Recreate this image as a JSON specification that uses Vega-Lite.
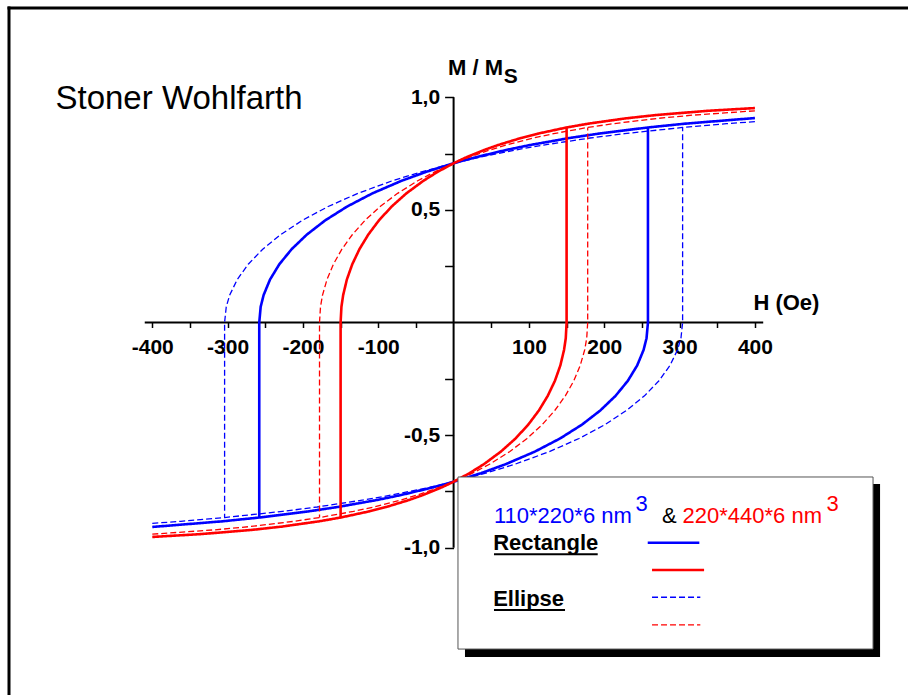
{
  "$schema": "https://vega.github.io/schema/vega-lite/v6.json",
  "width": 899,
  "height": 687,
  "autosize": {"type": "none"},
  "padding": {"left": 9, "top": 8, "right": 0, "bottom": 0},
  "background": "white",
  "config": {"view": {"stroke": null}, "font": "Liberation Sans"},
  "layer": [
    {
      "data": {"values": [{}]},
      "mark": {"type": "rule", "color": "black", "strokeWidth": 3, "strokeCap": "square"},
      "encoding": {
        "x": {"datum": -590.2, "type": "quantitative"},
        "y": {"datum": 1.3965, "type": "quantitative"},
        "y2": {"datum": -1.654}
      }
    },
    {
      "data": {"values": [{}]},
      "mark": {"type": "rule", "color": "black", "strokeWidth": 3, "strokeCap": "square"},
      "encoding": {
        "x": {"datum": -590.2, "type": "quantitative"},
        "x2": {"datum": 603.2},
        "y": {"datum": 1.3965, "type": "quantitative"}
      }
    },
    {
      "data": {"values": [{}]},
      "mark": {"type": "rule", "color": "black", "strokeWidth": 2},
      "encoding": {
        "x": {"datum": -410, "type": "quantitative"},
        "x2": {"datum": 411},
        "y": {"datum": 0, "type": "quantitative"}
      }
    },
    {
      "data": {"values": [{}]},
      "mark": {"type": "rule", "color": "black", "strokeWidth": 2},
      "encoding": {
        "x": {"datum": 0, "type": "quantitative"},
        "y": {"datum": 1, "type": "quantitative"},
        "y2": {"datum": -1}
      }
    },
    {
      "data": {"values": [
        {"k":"br1","c":"b","t":"r","i":0,"H":400,"M":0.9079},
        {"k":"br1","c":"b","t":"r","i":1,"H":307.3,"M":0.8829},
        {"k":"br1","c":"b","t":"r","i":2,"H":258,"M":0.866},
        {"k":"br1","c":"b","t":"r","i":3,"H":192.7,"M":0.8387},
        {"k":"br1","c":"b","t":"r","i":4,"H":153.8,"M":0.8192},
        {"k":"br1","c":"b","t":"r","i":5,"H":101.4,"M":0.788},
        {"k":"br1","c":"b","t":"r","i":6,"H":69.7,"M":0.766},
        {"k":"br1","c":"b","t":"r","i":7,"H":26.4,"M":0.7314},
        {"k":"br1","c":"b","t":"r","i":8,"H":0,"M":0.7071},
        {"k":"br1","c":"b","t":"r","i":9,"H":-36.3,"M":0.6691},
        {"k":"br1","c":"b","t":"r","i":10,"H":-69.0,"M":0.6293},
        {"k":"br1","c":"b","t":"r","i":11,"H":-107.7,"M":0.5736},
        {"k":"br1","c":"b","t":"r","i":12,"H":-141.3,"M":0.515},
        {"k":"br1","c":"b","t":"r","i":13,"H":-170.2,"M":0.454},
        {"k":"br1","c":"b","t":"r","i":14,"H":-194.7,"M":0.3907},
        {"k":"br1","c":"b","t":"r","i":15,"H":-215.0,"M":0.3256},
        {"k":"br1","c":"b","t":"r","i":16,"H":-231.3,"M":0.2588},
        {"k":"br1","c":"b","t":"r","i":17,"H":-243.7,"M":0.1908},
        {"k":"br1","c":"b","t":"r","i":18,"H":-252.2,"M":0.1219},
        {"k":"br1","c":"b","t":"r","i":19,"H":-256.1,"M":0.0698},
        {"k":"br1","c":"b","t":"r","i":20,"H":-258,"M":0},
        {"k":"br1","c":"b","t":"r","i":21,"H":-258,"M":-0.866},
        {"k":"br2","c":"b","t":"r","i":0,"H":-400,"M":-0.9079},
        {"k":"br2","c":"b","t":"r","i":1,"H":-307.3,"M":-0.8829},
        {"k":"br2","c":"b","t":"r","i":2,"H":-258,"M":-0.866},
        {"k":"br2","c":"b","t":"r","i":3,"H":-192.7,"M":-0.8387},
        {"k":"br2","c":"b","t":"r","i":4,"H":-153.8,"M":-0.8192},
        {"k":"br2","c":"b","t":"r","i":5,"H":-101.4,"M":-0.788},
        {"k":"br2","c":"b","t":"r","i":6,"H":-69.7,"M":-0.766},
        {"k":"br2","c":"b","t":"r","i":7,"H":-26.4,"M":-0.7314},
        {"k":"br2","c":"b","t":"r","i":8,"H":0,"M":-0.7071},
        {"k":"br2","c":"b","t":"r","i":9,"H":36.3,"M":-0.6691},
        {"k":"br2","c":"b","t":"r","i":10,"H":69.0,"M":-0.6293},
        {"k":"br2","c":"b","t":"r","i":11,"H":107.7,"M":-0.5736},
        {"k":"br2","c":"b","t":"r","i":12,"H":141.3,"M":-0.515},
        {"k":"br2","c":"b","t":"r","i":13,"H":170.2,"M":-0.454},
        {"k":"br2","c":"b","t":"r","i":14,"H":194.7,"M":-0.3907},
        {"k":"br2","c":"b","t":"r","i":15,"H":215.0,"M":-0.3256},
        {"k":"br2","c":"b","t":"r","i":16,"H":231.3,"M":-0.2588},
        {"k":"br2","c":"b","t":"r","i":17,"H":243.7,"M":-0.1908},
        {"k":"br2","c":"b","t":"r","i":18,"H":252.2,"M":-0.1219},
        {"k":"br2","c":"b","t":"r","i":19,"H":256.1,"M":-0.0698},
        {"k":"br2","c":"b","t":"r","i":20,"H":258,"M":0},
        {"k":"br2","c":"b","t":"r","i":21,"H":258,"M":0.866},
        {"k":"be1","c":"b","t":"e","i":0,"H":400,"M":0.8917},
        {"k":"be1","c":"b","t":"e","i":1,"H":362.1,"M":0.8829},
        {"k":"be1","c":"b","t":"e","i":2,"H":304,"M":0.866},
        {"k":"be1","c":"b","t":"e","i":3,"H":227.0,"M":0.8387},
        {"k":"be1","c":"b","t":"e","i":4,"H":181.2,"M":0.8192},
        {"k":"be1","c":"b","t":"e","i":5,"H":119.5,"M":0.788},
        {"k":"be1","c":"b","t":"e","i":6,"H":82.1,"M":0.766},
        {"k":"be1","c":"b","t":"e","i":7,"H":31.1,"M":0.7314},
        {"k":"be1","c":"b","t":"e","i":8,"H":0,"M":0.7071},
        {"k":"be1","c":"b","t":"e","i":9,"H":-42.7,"M":0.6691},
        {"k":"be1","c":"b","t":"e","i":10,"H":-81.4,"M":0.6293},
        {"k":"be1","c":"b","t":"e","i":11,"H":-127.0,"M":0.5736},
        {"k":"be1","c":"b","t":"e","i":12,"H":-166.5,"M":0.515},
        {"k":"be1","c":"b","t":"e","i":13,"H":-200.6,"M":0.454},
        {"k":"be1","c":"b","t":"e","i":14,"H":-229.4,"M":0.3907},
        {"k":"be1","c":"b","t":"e","i":15,"H":-253.4,"M":0.3256},
        {"k":"be1","c":"b","t":"e","i":16,"H":-272.6,"M":0.2588},
        {"k":"be1","c":"b","t":"e","i":17,"H":-287.2,"M":0.1908},
        {"k":"be1","c":"b","t":"e","i":18,"H":-297.2,"M":0.1219},
        {"k":"be1","c":"b","t":"e","i":19,"H":-301.8,"M":0.0698},
        {"k":"be1","c":"b","t":"e","i":20,"H":-304,"M":0},
        {"k":"be1","c":"b","t":"e","i":21,"H":-304,"M":-0.866},
        {"k":"be2","c":"b","t":"e","i":0,"H":-400,"M":-0.8917},
        {"k":"be2","c":"b","t":"e","i":1,"H":-362.1,"M":-0.8829},
        {"k":"be2","c":"b","t":"e","i":2,"H":-304,"M":-0.866},
        {"k":"be2","c":"b","t":"e","i":3,"H":-227.0,"M":-0.8387},
        {"k":"be2","c":"b","t":"e","i":4,"H":-181.2,"M":-0.8192},
        {"k":"be2","c":"b","t":"e","i":5,"H":-119.5,"M":-0.788},
        {"k":"be2","c":"b","t":"e","i":6,"H":-82.1,"M":-0.766},
        {"k":"be2","c":"b","t":"e","i":7,"H":-31.1,"M":-0.7314},
        {"k":"be2","c":"b","t":"e","i":8,"H":0,"M":-0.7071},
        {"k":"be2","c":"b","t":"e","i":9,"H":42.7,"M":-0.6691},
        {"k":"be2","c":"b","t":"e","i":10,"H":81.4,"M":-0.6293},
        {"k":"be2","c":"b","t":"e","i":11,"H":127.0,"M":-0.5736},
        {"k":"be2","c":"b","t":"e","i":12,"H":166.5,"M":-0.515},
        {"k":"be2","c":"b","t":"e","i":13,"H":200.6,"M":-0.454},
        {"k":"be2","c":"b","t":"e","i":14,"H":229.4,"M":-0.3907},
        {"k":"be2","c":"b","t":"e","i":15,"H":253.4,"M":-0.3256},
        {"k":"be2","c":"b","t":"e","i":16,"H":272.6,"M":-0.2588},
        {"k":"be2","c":"b","t":"e","i":17,"H":287.2,"M":-0.1908},
        {"k":"be2","c":"b","t":"e","i":18,"H":297.2,"M":-0.1219},
        {"k":"be2","c":"b","t":"e","i":19,"H":301.8,"M":-0.0698},
        {"k":"be2","c":"b","t":"e","i":20,"H":304,"M":0},
        {"k":"be2","c":"b","t":"e","i":21,"H":304,"M":0.866},
        {"k":"rr1","c":"r","t":"r","i":0,"H":400,"M":0.9522},
        {"k":"rr1","c":"r","t":"r","i":1,"H":336,"M":0.9397},
        {"k":"rr1","c":"r","t":"r","i":2,"H":266.7,"M":0.9205},
        {"k":"rr1","c":"r","t":"r","i":3,"H":228.2,"M":0.9063},
        {"k":"rr1","c":"r","t":"r","i":4,"H":178.7,"M":0.8829},
        {"k":"rr1","c":"r","t":"r","i":5,"H":150,"M":0.866},
        {"k":"rr1","c":"r","t":"r","i":6,"H":112.0,"M":0.8387},
        {"k":"rr1","c":"r","t":"r","i":7,"H":89.4,"M":0.8192},
        {"k":"rr1","c":"r","t":"r","i":8,"H":59.0,"M":0.788},
        {"k":"rr1","c":"r","t":"r","i":9,"H":40.5,"M":0.766},
        {"k":"rr1","c":"r","t":"r","i":10,"H":15.4,"M":0.7314},
        {"k":"rr1","c":"r","t":"r","i":11,"H":0,"M":0.7071},
        {"k":"rr1","c":"r","t":"r","i":12,"H":-21.1,"M":0.6691},
        {"k":"rr1","c":"r","t":"r","i":13,"H":-40.1,"M":0.6293},
        {"k":"rr1","c":"r","t":"r","i":14,"H":-62.6,"M":0.5736},
        {"k":"rr1","c":"r","t":"r","i":15,"H":-82.2,"M":0.515},
        {"k":"rr1","c":"r","t":"r","i":16,"H":-99.0,"M":0.454},
        {"k":"rr1","c":"r","t":"r","i":17,"H":-113.2,"M":0.3907},
        {"k":"rr1","c":"r","t":"r","i":18,"H":-125.0,"M":0.3256},
        {"k":"rr1","c":"r","t":"r","i":19,"H":-134.5,"M":0.2588},
        {"k":"rr1","c":"r","t":"r","i":20,"H":-141.7,"M":0.1908},
        {"k":"rr1","c":"r","t":"r","i":21,"H":-146.6,"M":0.1219},
        {"k":"rr1","c":"r","t":"r","i":22,"H":-148.9,"M":0.0698},
        {"k":"rr1","c":"r","t":"r","i":23,"H":-150,"M":0},
        {"k":"rr1","c":"r","t":"r","i":24,"H":-150,"M":-0.866},
        {"k":"rr2","c":"r","t":"r","i":0,"H":-400,"M":-0.9522},
        {"k":"rr2","c":"r","t":"r","i":1,"H":-336,"M":-0.9397},
        {"k":"rr2","c":"r","t":"r","i":2,"H":-266.7,"M":-0.9205},
        {"k":"rr2","c":"r","t":"r","i":3,"H":-228.2,"M":-0.9063},
        {"k":"rr2","c":"r","t":"r","i":4,"H":-178.7,"M":-0.8829},
        {"k":"rr2","c":"r","t":"r","i":5,"H":-150,"M":-0.866},
        {"k":"rr2","c":"r","t":"r","i":6,"H":-112.0,"M":-0.8387},
        {"k":"rr2","c":"r","t":"r","i":7,"H":-89.4,"M":-0.8192},
        {"k":"rr2","c":"r","t":"r","i":8,"H":-59.0,"M":-0.788},
        {"k":"rr2","c":"r","t":"r","i":9,"H":-40.5,"M":-0.766},
        {"k":"rr2","c":"r","t":"r","i":10,"H":-15.4,"M":-0.7314},
        {"k":"rr2","c":"r","t":"r","i":11,"H":0,"M":-0.7071},
        {"k":"rr2","c":"r","t":"r","i":12,"H":21.1,"M":-0.6691},
        {"k":"rr2","c":"r","t":"r","i":13,"H":40.1,"M":-0.6293},
        {"k":"rr2","c":"r","t":"r","i":14,"H":62.6,"M":-0.5736},
        {"k":"rr2","c":"r","t":"r","i":15,"H":82.2,"M":-0.515},
        {"k":"rr2","c":"r","t":"r","i":16,"H":99.0,"M":-0.454},
        {"k":"rr2","c":"r","t":"r","i":17,"H":113.2,"M":-0.3907},
        {"k":"rr2","c":"r","t":"r","i":18,"H":125.0,"M":-0.3256},
        {"k":"rr2","c":"r","t":"r","i":19,"H":134.5,"M":-0.2588},
        {"k":"rr2","c":"r","t":"r","i":20,"H":141.7,"M":-0.1908},
        {"k":"rr2","c":"r","t":"r","i":21,"H":146.6,"M":-0.1219},
        {"k":"rr2","c":"r","t":"r","i":22,"H":148.9,"M":-0.0698},
        {"k":"rr2","c":"r","t":"r","i":23,"H":150,"M":0},
        {"k":"rr2","c":"r","t":"r","i":24,"H":150,"M":0.866},
        {"k":"re1","c":"r","t":"e","i":0,"H":400,"M":0.9399},
        {"k":"re1","c":"r","t":"e","i":1,"H":316.5,"M":0.9205},
        {"k":"re1","c":"r","t":"e","i":2,"H":270.7,"M":0.9063},
        {"k":"re1","c":"r","t":"e","i":3,"H":212.0,"M":0.8829},
        {"k":"re1","c":"r","t":"e","i":4,"H":178,"M":0.866},
        {"k":"re1","c":"r","t":"e","i":5,"H":132.9,"M":0.8387},
        {"k":"re1","c":"r","t":"e","i":6,"H":106.1,"M":0.8192},
        {"k":"re1","c":"r","t":"e","i":7,"H":70.0,"M":0.788},
        {"k":"re1","c":"r","t":"e","i":8,"H":48.1,"M":0.766},
        {"k":"re1","c":"r","t":"e","i":9,"H":18.2,"M":0.7314},
        {"k":"re1","c":"r","t":"e","i":10,"H":0,"M":0.7071},
        {"k":"re1","c":"r","t":"e","i":11,"H":-25.0,"M":0.6691},
        {"k":"re1","c":"r","t":"e","i":12,"H":-47.6,"M":0.6293},
        {"k":"re1","c":"r","t":"e","i":13,"H":-74.3,"M":0.5736},
        {"k":"re1","c":"r","t":"e","i":14,"H":-97.5,"M":0.515},
        {"k":"re1","c":"r","t":"e","i":15,"H":-117.4,"M":0.454},
        {"k":"re1","c":"r","t":"e","i":16,"H":-134.3,"M":0.3907},
        {"k":"re1","c":"r","t":"e","i":17,"H":-148.3,"M":0.3256},
        {"k":"re1","c":"r","t":"e","i":18,"H":-159.6,"M":0.2588},
        {"k":"re1","c":"r","t":"e","i":19,"H":-168.1,"M":0.1908},
        {"k":"re1","c":"r","t":"e","i":20,"H":-174.0,"M":0.1219},
        {"k":"re1","c":"r","t":"e","i":21,"H":-176.7,"M":0.0698},
        {"k":"re1","c":"r","t":"e","i":22,"H":-178,"M":0},
        {"k":"re1","c":"r","t":"e","i":23,"H":-178,"M":-0.866},
        {"k":"re2","c":"r","t":"e","i":0,"H":-400,"M":-0.9399},
        {"k":"re2","c":"r","t":"e","i":1,"H":-316.5,"M":-0.9205},
        {"k":"re2","c":"r","t":"e","i":2,"H":-270.7,"M":-0.9063},
        {"k":"re2","c":"r","t":"e","i":3,"H":-212.0,"M":-0.8829},
        {"k":"re2","c":"r","t":"e","i":4,"H":-178,"M":-0.866},
        {"k":"re2","c":"r","t":"e","i":5,"H":-132.9,"M":-0.8387},
        {"k":"re2","c":"r","t":"e","i":6,"H":-106.1,"M":-0.8192},
        {"k":"re2","c":"r","t":"e","i":7,"H":-70.0,"M":-0.788},
        {"k":"re2","c":"r","t":"e","i":8,"H":-48.1,"M":-0.766},
        {"k":"re2","c":"r","t":"e","i":9,"H":-18.2,"M":-0.7314},
        {"k":"re2","c":"r","t":"e","i":10,"H":0,"M":-0.7071},
        {"k":"re2","c":"r","t":"e","i":11,"H":25.0,"M":-0.6691},
        {"k":"re2","c":"r","t":"e","i":12,"H":47.6,"M":-0.6293},
        {"k":"re2","c":"r","t":"e","i":13,"H":74.3,"M":-0.5736},
        {"k":"re2","c":"r","t":"e","i":14,"H":97.5,"M":-0.515},
        {"k":"re2","c":"r","t":"e","i":15,"H":117.4,"M":-0.454},
        {"k":"re2","c":"r","t":"e","i":16,"H":134.3,"M":-0.3907},
        {"k":"re2","c":"r","t":"e","i":17,"H":148.3,"M":-0.3256},
        {"k":"re2","c":"r","t":"e","i":18,"H":159.6,"M":-0.2588},
        {"k":"re2","c":"r","t":"e","i":19,"H":168.1,"M":-0.1908},
        {"k":"re2","c":"r","t":"e","i":20,"H":174.0,"M":-0.1219},
        {"k":"re2","c":"r","t":"e","i":21,"H":176.7,"M":-0.0698},
        {"k":"re2","c":"r","t":"e","i":22,"H":178,"M":0},
        {"k":"re2","c":"r","t":"e","i":23,"H":178,"M":0.866}
      ]},
      "mark": {"type": "line", "clip": false},
      "encoding": {
        "x": {
          "field": "H", "type": "quantitative",
          "scale": {"domain": [-590.2, 603.2], "nice": false, "zero": false},
          "axis": {
            "orient": "bottom", "offset": -372.5, "domain": false, "grid": false,
            "values": [-400, -350, -300, -250, -200, -150, -100, -50, 50, 100, 150, 200, 250, 300, 350, 400],
            "tickSize": 5, "tickWidth": 1.5, "tickColor": "black",
            "labelExpr": "datum.value % 100 == 0 ? (datum.value < 0 ? '-' + abs(datum.value) : '' + datum.value) : ''",
            "labelFont": "Liberation Sans", "labelFontSize": 21, "labelFontWeight": "bold", "labelColor": "black",
            "labelPadding": 9, "labelOverlap": false, "labelFlush": false, "title": null
          }
        },
        "y": {
          "field": "M", "type": "quantitative",
          "scale": {"domain": [-1.654, 1.3965], "nice": false, "zero": false},
          "axis": {
            "orient": "left", "offset": -444.6, "domain": false, "grid": false,
            "values": [-1, -0.75, -0.5, -0.25, 0.25, 0.5, 0.75, 1],
            "tickSize": 9, "tickWidth": 1.5, "tickColor": "black",
            "labelExpr": "datum.value == 1 ? '1,0' : datum.value == 0.5 ? '0,5' : datum.value == -0.5 ? '-0,5' : datum.value == -1 ? '-1,0' : ''",
            "labelFont": "Liberation Sans", "labelFontSize": 21, "labelFontWeight": "bold", "labelColor": "black",
            "labelPadding": 5, "labelOverlap": false, "labelFlush": false, "title": null
          }
        },
        "detail": {"field": "k", "type": "nominal"},
        "order": {"field": "i", "type": "quantitative"},
        "color": {"field": "c", "type": "nominal", "scale": {"domain": ["b", "r"], "range": ["#0000ff", "#ff0000"]}, "legend": null},
        "strokeDash": {"field": "t", "type": "nominal", "scale": {"domain": ["r", "e"], "range": [[1, 0], [6, 3]]}, "legend": null},
        "strokeWidth": {"field": "t", "type": "nominal", "scale": {"domain": ["r", "e"], "range": [2.6, 1.3]}, "legend": null}
      }
    },
    {
      "data": {"values": [{}]},
      "mark": {"type": "rect", "fill": "black"},
      "encoding": {
        "x": {"datum": 15.1, "type": "quantitative"},
        "x2": {"datum": 566.1},
        "y": {"datum": -0.717, "type": "quantitative"},
        "y2": {"datum": -1.485}
      }
    },
    {
      "data": {"values": [{}]},
      "mark": {"type": "rect", "fill": "white", "stroke": "#555555", "strokeWidth": 1},
      "encoding": {
        "x": {"datum": 5.8, "type": "quantitative"},
        "x2": {"datum": 556.8},
        "y": {"datum": -0.686, "type": "quantitative"},
        "y2": {"datum": -1.45}
      }
    },
    {
      "data": {"values": [{}]},
      "mark": {"type": "rule", "color": "#0000ff", "strokeWidth": 2.6},
      "encoding": {
        "x": {"datum": 257.7, "type": "quantitative"},
        "x2": {"datum": 326.2},
        "y": {"datum": -0.978, "type": "quantitative"}
      }
    },
    {
      "data": {"values": [{}]},
      "mark": {"type": "rule", "color": "#ff0000", "strokeWidth": 2.6},
      "encoding": {
        "x": {"datum": 263.4, "type": "quantitative"},
        "x2": {"datum": 332.5},
        "y": {"datum": -1.099, "type": "quantitative"}
      }
    },
    {
      "data": {"values": [{}]},
      "mark": {"type": "rule", "color": "#0000ff", "strokeWidth": 1.3, "strokeDash": [6, 3]},
      "encoding": {
        "x": {"datum": 263.4, "type": "quantitative"},
        "x2": {"datum": 327.5},
        "y": {"datum": -1.22, "type": "quantitative"}
      }
    },
    {
      "data": {"values": [{}]},
      "mark": {"type": "rule", "color": "#ff0000", "strokeWidth": 1.3, "strokeDash": [6, 3]},
      "encoding": {
        "x": {"datum": 263.4, "type": "quantitative"},
        "x2": {"datum": 327.5},
        "y": {"datum": -1.343, "type": "quantitative"}
      }
    },
    {
      "data": {"values": [{}]},
      "mark": {"type": "rule", "color": "black", "strokeWidth": 2},
      "encoding": {
        "x": {"datum": 53.6, "type": "quantitative"},
        "x2": {"datum": 191.3},
        "y": {"datum": -1.029, "type": "quantitative"}
      }
    },
    {
      "data": {"values": [{}]},
      "mark": {"type": "rule", "color": "black", "strokeWidth": 2},
      "encoding": {
        "x": {"datum": 53.6, "type": "quantitative"},
        "x2": {"datum": 147.9},
        "y": {"datum": -1.277, "type": "quantitative"}
      }
    },
    {
      "data": {"values": [{}]},
      "mark": {"type": "text", "text": "110*220*6 nm", "font": "Liberation Sans", "fontSize": 22, "color": "#0000ff", "align": "left", "baseline": "alphabetic"},
      "encoding": {
        "x": {"datum": 53.6, "type": "quantitative"},
        "y": {"datum": -0.89, "type": "quantitative"}
      }
    },
    {
      "data": {"values": [{}]},
      "mark": {"type": "text", "text": "3", "font": "Liberation Sans", "fontSize": 22, "color": "#0000ff", "align": "left", "baseline": "alphabetic"},
      "encoding": {
        "x": {"datum": 241.5, "type": "quantitative"},
        "y": {"datum": -0.836, "type": "quantitative"}
      }
    },
    {
      "data": {"values": [{}]},
      "mark": {"type": "text", "text": "&", "font": "Liberation Sans", "fontSize": 22, "color": "black", "align": "left", "baseline": "alphabetic"},
      "encoding": {
        "x": {"datum": 276.7, "type": "quantitative"},
        "y": {"datum": -0.89, "type": "quantitative"}
      }
    },
    {
      "data": {"values": [{}]},
      "mark": {"type": "text", "text": "220*440*6 nm", "font": "Liberation Sans", "fontSize": 22, "color": "#ff0000", "align": "left", "baseline": "alphabetic"},
      "encoding": {
        "x": {"datum": 303.9, "type": "quantitative"},
        "y": {"datum": -0.89, "type": "quantitative"}
      }
    },
    {
      "data": {"values": [{}]},
      "mark": {"type": "text", "text": "3", "font": "Liberation Sans", "fontSize": 22, "color": "#ff0000", "align": "left", "baseline": "alphabetic"},
      "encoding": {
        "x": {"datum": 495, "type": "quantitative"},
        "y": {"datum": -0.836, "type": "quantitative"}
      }
    },
    {
      "data": {"values": [{}]},
      "mark": {"type": "text", "text": "Rectangle", "font": "Liberation Sans", "fontSize": 22, "fontWeight": "bold", "color": "black", "align": "left", "baseline": "alphabetic"},
      "encoding": {
        "x": {"datum": 52.5, "type": "quantitative"},
        "y": {"datum": -1.01, "type": "quantitative"}
      }
    },
    {
      "data": {"values": [{}]},
      "mark": {"type": "text", "text": "Ellipse", "font": "Liberation Sans", "fontSize": 22, "fontWeight": "bold", "color": "black", "align": "left", "baseline": "alphabetic"},
      "encoding": {
        "x": {"datum": 52.5, "type": "quantitative"},
        "y": {"datum": -1.258, "type": "quantitative"}
      }
    },
    {
      "data": {"values": [{}]},
      "mark": {"type": "text", "text": "Stoner Wohlfarth", "font": "Liberation Sans", "fontSize": 33, "color": "black", "align": "left", "baseline": "alphabetic"},
      "encoding": {
        "x": {"datum": -528.5, "type": "quantitative"},
        "y": {"datum": 0.948, "type": "quantitative"}
      }
    },
    {
      "data": {"values": [{}]},
      "mark": {"type": "text", "text": "H (Oe)", "font": "Liberation Sans", "fontSize": 22, "fontWeight": "bold", "color": "black", "align": "left", "baseline": "alphabetic"},
      "encoding": {
        "x": {"datum": 398, "type": "quantitative"},
        "y": {"datum": 0.0555, "type": "quantitative"}
      }
    },
    {
      "data": {"values": [{}]},
      "mark": {"type": "text", "text": "M / M", "font": "Liberation Sans", "fontSize": 22, "fontWeight": "bold", "color": "black", "align": "left", "baseline": "alphabetic"},
      "encoding": {
        "x": {"datum": -7.4, "type": "quantitative"},
        "y": {"datum": 1.0968, "type": "quantitative"}
      }
    },
    {
      "data": {"values": [{}]},
      "mark": {"type": "text", "text": "S", "font": "Liberation Sans", "fontSize": 21, "fontWeight": "bold", "color": "black", "align": "left", "baseline": "alphabetic"},
      "encoding": {
        "x": {"datum": 66.5, "type": "quantitative"},
        "y": {"datum": 1.0613, "type": "quantitative"}
      }
    }
  ]
}
